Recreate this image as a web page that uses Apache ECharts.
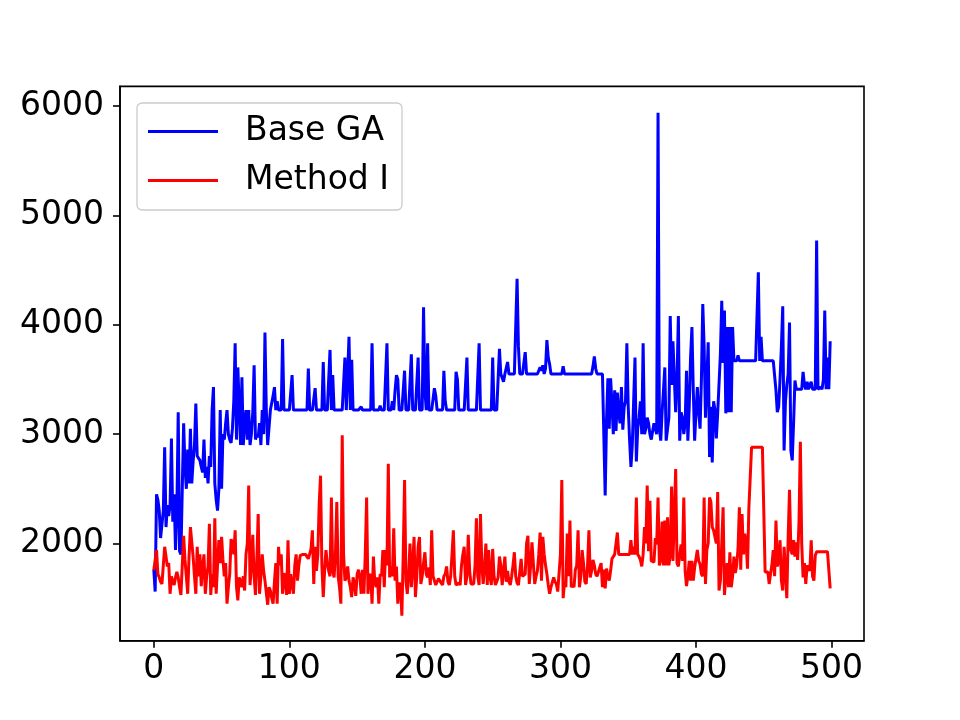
<!DOCTYPE html>
<html><head><meta charset="utf-8">
<script src="https://cdn.jsdelivr.net/npm/echarts@6/dist/echarts.min.js"></script>
<style>html,body{margin:0;padding:0;background:#fff}#c{width:960px;height:720px}</style>
</head><body><div id="c"></div>
<script>
const seriesNames = ['Base GA', 'Method I'];
const xTicks = [0, 100, 200, 300, 400, 500];
const yTicks = [2000, 3000, 4000, 5000, 6000];

const baseGA = [
1760,1560,2450,2400,2300,2050,2050,2300,2880,2150,
2350,2250,2350,2960,2200,2450,1940,2300,3200,1930,
1900,2500,3100,2700,2500,2860,2550,3050,2550,2750,
2900,3280,2800,2800,2760,2700,2650,2950,2600,2700,
2550,2800,2700,3220,3430,2550,2400,2300,2500,3220,
2500,3000,2950,3100,3220,3000,2950,2920,3050,3300,
3830,2950,3610,3620,2900,3520,2900,3100,3220,2950,
3220,2900,3000,3200,3630,2950,3000,2970,3100,2900,
3220,3000,3930,3220,2900,2900,3220,3220,3350,3430,
3220,3300,3220,3220,3220,3870,3220,3220,3220,3220,
3220,3220,3540,3220,3220,3220,3220,3220,3220,3220,
3220,3220,3220,3220,3600,3220,3220,3220,3220,3420,
3220,3220,3220,3220,3220,3660,3220,3220,3220,3220,
3770,3220,3540,3220,3220,3220,3220,3220,3220,3220,
3220,3700,3220,3220,3890,3220,3680,3220,3220,3220,
3220,3220,3220,3250,3220,3220,3220,3220,3220,3220,
3220,3830,3220,3220,3220,3220,3220,3260,3220,3220,
3220,3220,3830,3220,3220,3220,3300,3220,3400,3540,
3500,3220,3220,3220,3220,3580,3220,3220,3220,3220,
3730,3220,3220,3220,3220,3700,3220,3220,3220,4160,
3400,3220,3830,3220,3220,3220,3220,3420,3350,3220,
3220,3220,3220,3220,3580,3300,3220,3220,3220,3220,
3220,3220,3220,3570,3500,3220,3220,3220,3220,3220,
3220,3700,3220,3220,3220,3220,3220,3220,3220,3220,
3830,3220,3220,3220,3220,3220,3220,3220,3220,3220,
3700,3220,3220,3220,3220,3780,3550,3550,3480,3550,
3550,3660,3550,3550,3550,3550,3550,3550,4420,3800,
3550,3550,3550,3550,3750,3550,3550,3550,3550,3550,
3550,3550,3550,3550,3550,3610,3580,3630,3550,3600,
3860,3700,3640,3550,3550,3550,3550,3550,3550,3550,
3550,3550,3620,3550,3550,3550,3550,3550,3550,3550,
3550,3550,3550,3550,3550,3550,3550,3550,3550,3550,
3550,3550,3550,3550,3620,3710,3600,3550,3550,3550,
3550,3550,3550,2440,3130,3510,3050,3510,3280,3000,
3400,3030,3380,3190,3100,3430,3040,3250,3300,3830,
3250,2950,2700,2900,3300,3700,2750,3050,3150,3300,
3000,3830,3000,3050,3150,3100,3000,2950,2940,3100,
3050,3000,5940,3050,2940,3200,3400,3610,2940,2950,
3150,4080,3450,3850,3850,3200,3500,4080,2940,3200,
3150,3000,3100,3580,2940,3250,3700,3980,3400,2940,
3200,3430,3200,3050,3500,4190,3800,3150,3150,3840,
2790,3250,2740,3300,3220,2960,3190,3200,3730,4220,
3650,4130,3190,3980,3200,3980,3200,3980,3670,3670,
3670,3720,3670,3670,3670,3670,3670,3670,3670,3670,
3670,3670,3670,3670,3670,3670,4480,3670,3890,3670,
3670,3670,3670,3670,3670,3670,3670,3670,3670,3400,
3200,3250,3500,3800,4170,2850,3300,3450,3550,4020,
2850,2760,3100,3490,3410,3410,3410,3410,3410,3570,
3450,3410,3480,3410,3410,3480,3410,3420,3410,4770,
3410,3410,3430,3410,3500,4130,3410,3700,3410,3850
];

const methodI = [
1755,1850,1940,1720,1690,1650,1630,1800,1970,1880,
1790,1820,1540,1700,1650,1620,1690,1740,1690,1600,
1530,1540,2070,1850,1700,1540,1880,2150,2150,1880,
1700,1540,1970,1700,1900,1610,1790,1900,1540,1700,
1790,2180,1530,1720,1600,2230,1540,1800,2030,1820,
2060,1850,1700,1820,1450,1600,1720,2040,2000,1900,
2120,1600,1480,1690,1650,1600,1700,1570,1900,2000,
2530,1620,1800,2080,1700,1530,1850,2270,1540,1700,
1900,1750,1660,1550,1440,1600,1570,1500,1450,1650,
1820,1450,1970,1800,1900,1540,1730,1650,1530,2030,
1540,1720,1720,1540,1800,1900,1660,1800,1890,1900,
1900,1900,1900,1880,1860,1850,1950,2120,1630,1970,
1750,1900,2360,2620,1800,1510,1750,1940,1820,1750,
1700,2420,1750,1690,1900,2380,1700,1600,1450,2990,
1900,1660,1690,1790,1660,1600,1510,1690,1640,1520,
1720,1760,1700,1540,1760,1540,1900,2420,1540,1700,
1720,1450,1880,1650,1600,1690,1450,1720,1700,1940,
1600,1940,1800,2730,1690,1790,1700,2140,1660,1790,
1450,1640,1620,1340,1900,2580,1660,1540,1720,2000,
1600,1800,2060,1510,1700,1970,2060,1630,1700,1820,
1920,1720,1690,1780,1620,2120,1700,1690,1620,1650,
1680,1680,1640,1620,1700,1720,1790,1650,1620,1700,
1900,2120,1700,1620,1620,1640,1620,1800,1900,1970,
1620,1700,2080,1750,1630,1630,1630,1800,2230,1700,
1620,2270,1800,1630,1800,2000,1620,1940,1700,1620,
1950,1700,1620,1650,1690,1880,1800,1620,1750,1880,
1650,1750,1650,1620,1700,1800,1920,1700,1640,1620,
1620,1860,1700,1700,1720,2000,2070,1630,1800,2010,
2010,1630,1700,1750,1900,2100,1660,2060,1900,1800,
1720,1620,1540,1600,1600,1690,1650,1630,1560,1560,
1900,2580,1500,1650,1600,2090,1700,2210,1600,1620,
1600,1760,1800,2120,1600,1700,1940,1820,1650,1630,
1800,2120,1690,1750,1850,1800,1720,1700,1690,1780,
1820,1600,1760,1590,1770,1700,1660,1750,1860,1880,
1900,2000,2100,1900,1900,1900,1900,1900,1900,1900,
1900,1900,2030,1900,1970,1900,2420,1900,1880,1850,
1790,1900,2150,2000,2530,1930,2390,1840,1830,1830,
2050,1990,2420,1800,1850,2200,1800,2210,1800,2240,
1800,1900,2520,1840,2240,2680,1820,1790,1900,1990,
1840,2420,1750,1610,1700,1840,1660,1840,1660,1780,
1790,1940,1840,1810,1720,1700,2420,1630,1940,2000,
2420,2380,2150,2120,2120,2000,2470,1570,1660,1650,
2330,1530,1700,1820,1600,1920,1600,1700,1880,1730,
1800,1950,2330,1760,2270,1900,2090,2000,1770,2320,
2320,2880,2880,2880,2880,2880,2880,2880,2880,2880,
2880,1740,1740,1740,1630,1720,1800,1940,1700,2210,
1790,1850,2030,1660,1570,1970,1740,1500,2060,2490,
1940,1900,2030,1880,2010,1850,2200,2930,2000,1690,
1820,1630,1800,1790,1750,2030,1700,1660,1890,1925,
1925,1925,1925,1925,1925,1925,1925,1925,1925,1590
];

const toPairs = arr => arr.map((v, i) => [i, v]);
const chart = echarts.init(document.getElementById('c'), null, { renderer: 'canvas' });
const font = 'DejaVu Sans';
chart.setOption({
  animation: false,
  backgroundColor: '#ffffff',
  grid: { left: 120, right: 96, top: 86.4, bottom: 79.2, show: true, borderColor: '#000', borderWidth: 1.6, backgroundColor: 'transparent' },
  xAxis: {
    type: 'value', min: -24.95, max: 523.95,
    axisLine: { show: true, onZero: false, lineStyle: { color: '#000', width: 1.6 } },
    axisTick: { show: true, customValues: xTicks, length: 7, lineStyle: { color: '#000', width: 1.6 } },
    axisLabel: { customValues: xTicks, fontFamily: font, fontSize: 33, color: '#000', margin: 12,
      formatter: v => String(v) },
    splitLine: { show: false }
  },
  yAxis: {
    type: 'value', min: 1110, max: 6180,
    axisLine: { show: true, onZero: false, lineStyle: { color: '#000', width: 1.6 } },
    axisTick: { show: true, customValues: yTicks, length: 7, lineStyle: { color: '#000', width: 1.6 } },
    axisLabel: { customValues: yTicks, fontFamily: font, fontSize: 33, color: '#000', margin: 16,
      formatter: v => String(v) },
    splitLine: { show: false }
  },
  legend: {
    orient: 'vertical', left: 137, top: 103,
    padding: [12, 13, 13, 11], itemGap: 16,
    itemWidth: 70, itemHeight: 3, icon: 'rect',
    borderColor: '#cccccc', borderWidth: 1.3, borderRadius: 5,
    backgroundColor: 'rgba(255,255,255,0.8)',
    textStyle: { fontFamily: font, fontSize: 33, color: '#000', padding: [0, 0, 0, 22] },
    data: seriesNames
  },
  series: [
    { name: seriesNames[0], type: 'line', data: toPairs(baseGA), showSymbol: false, symbol: 'none',
      color: '#0000ff', lineStyle: { color: '#0000ff', width: 3 }, silent: true, emphasis: { disabled: true } },
    { name: seriesNames[1], type: 'line', data: toPairs(methodI), showSymbol: false, symbol: 'none',
      color: '#ff0000', lineStyle: { color: '#ff0000', width: 3 }, silent: true, emphasis: { disabled: true } }
  ]
});
</script>
</body></html>
